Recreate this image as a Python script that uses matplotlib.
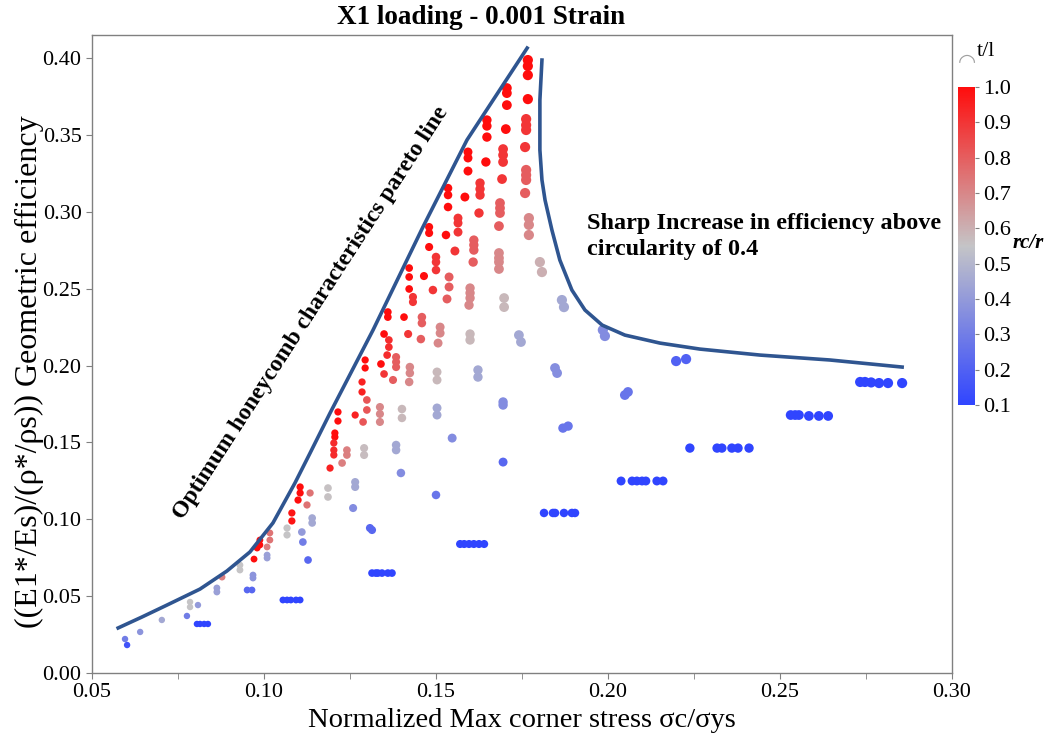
import numpy as np
import matplotlib
matplotlib.use("Agg")
import matplotlib.pyplot as plt
from matplotlib.colors import LinearSegmentedColormap, Normalize
from matplotlib.ticker import MultipleLocator, FormatStrFormatter

plt.rcParams['font.family'] = ['Liberation Serif', 'DejaVu Serif']

# t/l level of each group (drives marker size)
series_tl = [10, 9, 8, 7, 6, 5, 4, 3, 2, 1]

# normalized max corner stress, one list per t/l group
series_x = [
    [.1767, .1767, .1767, .1767, .1762, .1762, .1762, .1759, .1762, .1762, .1762, .1759, .1770, .1770, .1770,
     .1802, .1808, .1866, .1872, .1985, .1991, .2198, .2227, .2733, .2747, .2765, .2788, .2814, .2855],
    [.1706, .1706, .1706, .1703, .1695, .1695, .1695, .1692, .1686, .1686, .1686, .1683, .1683, .1683, .1683,
     .1683, .1698, .1698, .1741, .1747, .1846, .1852, .2049, .2058, .2531, .2544, .2555, .2584, .2613, .2640],
    [.1648, .1648, .1648, .1645, .1628, .1628, .1628, .1625, .1610, .1610, .1610, .1608, .1599, .1599, .1599,
     .1596, .1599, .1599, .1622, .1622, .1695, .1695, .1869, .1884, .2238, .2317, .2331, .2360, .2378, .2410],
    [.1593, .1593, .1593, .1584, .1564, .1564, .1564, .1555, .1538, .1538, .1532, .1512, .1512, .1506, .1503,
     .1503, .1503, .1503, .1547, .1695, .2038, .2070, .2084, .2099, .2110, .2142, .2160],
    [.1535, .1535, .1535, .1529, .1500, .1500, .1500, .1491, .1459, .1459, .1456, .1424, .1424, .1422, .1401,
     .1401, .1384, .1384, .1398, .1500, .1814, .1840, .1846, .1872, .1895, .1904],
    [.1480, .1480, .1480, .1465, .1433, .1433, .1419, .1384, .1384, .1384, .1375, .1337, .1337, .1337, .1291,
     .1291, .1265, .1265, .1259, .1308, .1314, .1570, .1582, .1596, .1610, .1625, .1640],
    [.1422, .1422, .1422, .1407, .1360, .1360, .1349, .1363, .1363, .1358, .1340, .1349, .1299, .1299, .1288,
     .1241, .1241, .1227, .1186, .1186, .1140, .1140, .1110, .1113, .1128, .1314, .1325, .1331, .1343, .1360,
     .1372],
    [.1294, .1294, .1285, .1285, .1265, .1215, .1215, .1206, .1206, .1203, .1203, .1203, .1192, .1134, .1125,
     .1081, .1081, .1067, .1067, .1105, .1105, .1099],
    [.0988, .0988, .0980, .0971, .1017, .1017, .1009, .1009, .1009, .0930, .0930, .0968, .0968, .0878, .0863,
     .0863, .0951, .0965, .1055, .1067, .1078, .1093, .1105],
    [.0785, .0785, .0808, .0776, .0805, .0814, .0826, .0837, .0703, .0640, .0596, .0602],
]

# geometric efficiency
series_y = [
    [.3987, .3948, .3889, .3733, .3603, .3564, .3532, .3421, .3272, .3239, .3207, .3122, .2959, .2915, .2849,
     .2673, .2608, .2426, .2380, .2231, .2192, .2029, .2042, .1893, .1893, .1890, .1886, .1886, .1886],
    [.3805, .3772, .3694, .3538, .3408, .3369, .3324, .3213, .3057, .3024, .2992, .2907, .2732, .2699, .2673,
     .2628, .2439, .2380, .2198, .2153, .1984, .1951, .1808, .1828, .1678, .1678, .1678, .1672, .1672, .1672],
    [.3597, .3558, .3486, .3324, .3187, .3148, .3109, .2992, .2816, .2784, .2751, .2673, .2504, .2472, .2439,
     .2393, .2205, .2166, .1971, .1925, .1763, .1743, .1593, .1606, .1463, .1463, .1463, .1463, .1463, .1463],
    [.3389, .3350, .3265, .3096, .2959, .2927, .2868, .2745, .2576, .2511, .2433, .2250, .2211, .2146, .1958,
     .1906, .1724, .1678, .1528, .1372, .1249, .1249, .1249, .1249, .1249, .1249, .1249],
    [.3154, .3109, .3031, .2849, .2706, .2673, .2621, .2491, .2315, .2276, .2172, .1990, .1951, .1893, .1717,
     .1659, .1483, .1450, .1301, .1158, .1041, .1041, .1041, .1041, .1041, .1041],
    [.2901, .2862, .2771, .2582, .2446, .2413, .2205, .2055, .2023, .1990, .1906, .1730, .1685, .1633, .1463,
     .1418, .1242, .1210, .1073, .0943, .0930, .0839, .0839, .0839, .0839, .0839, .0839],
    [.2634, .2576, .2498, .2315, .2348, .2315, .2205, .2166, .2120, .2068, .2010, .1945, .1776, .1711, .1633,
     .1450, .1418, .1366, .1203, .1145, .1008, .0976, .0917, .0852, .0735, .0650, .0650, .0650, .0650, .0650,
     .0650],
    [.2036, .1984, .1893, .1828, .1678, .1698, .1639, .1561, .1535, .1496, .1450, .1418, .1333, .1171, .1093,
     .1041, .0989, .0943, .0898, .1210, .1171, .1125],
    [.0865, .0833, .0813, .0741, .0911, .0865, .0820, .0767, .0748, .0702, .0670, .0637, .0618, .0624, .0553,
     .0527, .0540, .0540, .0475, .0475, .0475, .0475, .0475],
    [.0462, .0429, .0442, .0371, .0319, .0319, .0319, .0319, .0345, .0267, .0221, .0182],
]

# rc/r (colour)
series_rc = [
    [1, 1, 1, 1, .9, .9, .9, .9, .8, .8, .8, .8, .7, .7, .7, .6, .6, .45, .45, .35, .35, .2, .2,
     .1, .1, .1, .1, .1, .1],
    [1, 1, 1, 1, .9, .9, .9, .9, .8, .8, .8, .8, .7, .7, .7, .7, .58, .58, .45, .45, .36, .36, .27, .27,
     .1, .1, .1, .1, .1, .1],
    [1, 1, 1, 1, .9, .9, .9, .9, .8, .8, .8, .8, .7, .7, .7, .7, .58, .58, .45, .45, .35, .35, .27, .27,
     .1, .1, .1, .1, .1, .1],
    [1, 1, 1, 1, .9, .9, .9, .9, .8, .8, .8, .7, .7, .7, .58, .58, .45, .45, .35, .22,
     .1, .1, .1, .1, .1, .1, .1],
    [1, 1, 1, 1, .9, .9, .9, .9, .8, .8, .8, .7, .7, .7, .58, .58, .45, .45, .35, .27,
     .1, .1, .1, .1, .1, .1],
    [1, 1, 1, 1, .9, .9, .9, .8, .8, .8, .8, .7, .7, .7, .57, .57, .45, .45, .35, .22, .22,
     .1, .1, .1, .1, .1, .1],
    [1, 1, 1, 1, 1, 1, 1, .92, .92, .92, 1, .9, .82, .82, .82, .72, .72, .72, .56, .56, .45, .45, .4, .3, .22,
     .1, .1, .1, .1, .1, .1],
    [1, 1, .95, .95, .95, 1, 1, 1, 1, .92, .92, .92, .95, .75, .75, .98, .98, .55, .55, 1, 1, 1],
    [1, 1, 1, 1, .75, .75, .72, .42, .42, .55, .55, .38, .38, .72, .42, .42, .22, .22, .1, .1, .1, .1, .1],
    [.55, .55, .4, .3, .1, .1, .1, .1, .45, .38, .3, .15],
]

# hand drawn guide lines
pareto_x = [0.0576, 0.0645, 0.0718, 0.0814, 0.0892, 0.0959, 0.1026, 0.1090, 0.1134, 0.1192, 0.1317, 0.1462,
            0.1590, 0.1765]
pareto_y = [0.0293, 0.0364, 0.0442, 0.0546, 0.0663, 0.0787, 0.0976, 0.1236, 0.1431, 0.1691, 0.2231, 0.2901,
            0.3467, 0.4065]
sharp_x = [0.1808, 0.1802, 0.1802, 0.1808, 0.1817, 0.1837, 0.1860, 0.1895, 0.1933, 0.1983, 0.2049, 0.2151,
           0.2267, 0.2442, 0.2645, 0.2855]
sharp_y = [0.3987, 0.3727, 0.3402, 0.3207, 0.3076, 0.2881, 0.2686, 0.2491, 0.2361, 0.2263, 0.2198, 0.2146,
           0.2107, 0.2068, 0.2036, 0.1990]

cmap = LinearSegmentedColormap.from_list(
    'rcr', [(0.0, (0.19, 0.27, 1.0)), (0.5, (0.77, 0.77, 0.78)), (1.0, (1.0, 0.05, 0.05))])
norm = Normalize(0.1, 1.0)

fig = plt.figure(figsize=(10.5, 7.44), dpi=100)
ax = fig.add_axes([92 / 1050, 71 / 744, 860 / 1050, 638 / 744])

for tl, xs, ys, cs in zip(series_tl, series_x, series_y, series_rc):
    d = 6.0 + 0.42 * tl  # marker diameter in px
    ax.scatter(xs, ys, c=cs, cmap=cmap, norm=norm, s=(d * 0.72) ** 2,
               edgecolors='none', zorder=2)

ax.plot(pareto_x, pareto_y, color='#2f5590', lw=2.6, zorder=3, solid_joinstyle='round')
ax.plot(sharp_x, sharp_y, color='#2f5590', lw=2.6, zorder=3, solid_joinstyle='round')

ax.text(0.1135, 0.2345, 'Optimum honeycomb characteristics pareto line', rotation=57,
        rotation_mode='anchor', ha='center', va='center', fontsize=17, fontweight='bold')
ax.text(0.1939, 0.2840, 'Sharp Increase in efficiency above\ncircularity of 0.4',
        ha='left', va='center', fontsize=17.5, fontweight='bold', linespacing=1.35)

ax.set_xlim(0.05, 0.30)
ax.set_ylim(0.0, 0.415)
ax.xaxis.set_major_locator(MultipleLocator(0.05))
ax.xaxis.set_minor_locator(MultipleLocator(0.025))
ax.yaxis.set_major_locator(MultipleLocator(0.05))
ax.xaxis.set_major_formatter(FormatStrFormatter('%.2f'))
ax.yaxis.set_major_formatter(FormatStrFormatter('%.2f'))
ax.tick_params(which='both', direction='out', length=4, color='#808080', labelsize=16)
for sp in ax.spines.values():
    sp.set_color('#808080')
    sp.set_linewidth(1.0)

ax.set_xlabel('Normalized Max corner stress σc/σys', fontsize=20.5, labelpad=4)
ax.set_ylabel('((E1*/Es)/(ρ*/ρs)) Geometric efficiency', fontsize=23)
ax.yaxis.set_label_coords(-0.0555, 0.472)

fig.text(481 / 1050, 1 - 18 / 744, 'X1 loading - 0.001 Strain', ha='center', va='center',
         fontsize=19.5, fontweight='bold')

# colour bar for rc/r
cax = fig.add_axes([958 / 1050, 339 / 744, 17 / 1050, 318 / 744])
sm = plt.cm.ScalarMappable(cmap=cmap, norm=norm)
cb = fig.colorbar(sm, cax=cax, ticks=np.round(np.arange(0.1, 1.01, 0.1), 1))
cb.outline.set_visible(False)
cb.ax.yaxis.set_major_formatter(FormatStrFormatter('%.1f'))
cb.ax.tick_params(length=3, color='#808080', labelsize=16, pad=3)
fig.text(1013 / 1050, 1 - 243 / 744, 'rc/r', fontsize=15, fontweight='bold', style='italic',
         ha='left', va='center')
fig.text(977 / 1050, 1 - 52 / 744, 't/l', fontsize=16, ha='left', va='center')
fig.text(967 / 1050, 1 - 62 / 744, '◠', fontsize=15, color='#a0a0a0', ha='center', va='center',
         family='DejaVu Sans')

fig.savefig('out.png', dpi=100)
